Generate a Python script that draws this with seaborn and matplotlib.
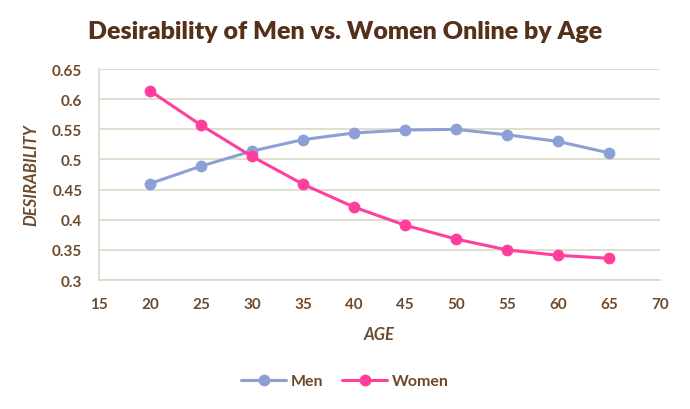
import matplotlib
matplotlib.use("Agg")
import matplotlib.pyplot as plt
import seaborn as sns
import pandas as pd

ages = [20, 25, 30, 35, 40, 45, 50, 55, 60, 65]
men = [0.460, 0.489, 0.514, 0.533, 0.544, 0.549, 0.550, 0.541, 0.530, 0.511]
women = [0.614, 0.557, 0.505, 0.459, 0.421, 0.391, 0.368, 0.350, 0.341, 0.336]
x_ticks = [15, 20, 25, 30, 35, 40, 45, 50, 55, 60, 65, 70]
y_ticks = [0.3, 0.35, 0.4, 0.45, 0.5, 0.55, 0.6, 0.65]
y_tick_labels = ["0.3", "0.35", "0.4", "0.45", "0.5", "0.55", "0.6", "0.65"]

sns.set_theme(style="white")
plt.rcParams["font.family"] = ["Lato", "DejaVu Sans"]

df = pd.DataFrame({
    "Age": ages * 2,
    "Desirability": men + women,
    "Sex": ["Men"] * len(ages) + ["Women"] * len(ages),
})

brown = "#6E4A2C"
title_brown = "#55301A"
grid_c = "#DCDCCB"
palette = {"Men": "#8DA0D6", "Women": "#FF3F9B"}

fig = plt.figure(figsize=(6.9, 4.1), dpi=100)
ax = fig.add_axes([0.1435, 0.3146, 0.813, 0.5144])

sns.lineplot(data=df, x="Age", y="Desirability", hue="Sex", palette=palette,
             marker="o", markersize=8.5, markeredgewidth=0, linewidth=2.2,
             ax=ax, legend=True)

ax.set_xlim(15, 70)
ax.set_ylim(0.3, 0.65)
ax.set_xticks(x_ticks)
ax.set_xticklabels([str(t) for t in x_ticks])
ax.set_yticks(y_ticks)
ax.set_yticklabels(y_tick_labels)
ax.tick_params(axis="both", length=0, labelsize=11, labelcolor=brown)
ax.tick_params(axis="x", pad=12)
ax.tick_params(axis="y", pad=12)
for lab in ax.get_xticklabels() + ax.get_yticklabels():
    lab.set_fontweight("bold")

ax.yaxis.grid(True, color=grid_c, linewidth=1.3)
ax.xaxis.grid(False)
for s in ["top", "right"]:
    ax.spines[s].set_visible(False)
for s in ["left", "bottom"]:
    ax.spines[s].set_color(grid_c)
    ax.spines[s].set_linewidth(1.3)

ax.set_xlabel("AGE", fontsize=12, fontweight="bold", fontstyle="italic", color=brown, labelpad=11)
ax.set_ylabel("DESIRABILITY", fontsize=12, fontweight="bold", fontstyle="italic", color=brown, labelpad=9)

fig.text(0.5, 0.922, "Desirability of Men vs. Women Online by Age", ha="center", va="center",
         fontsize=18, fontweight="heavy", color=title_brown)

handles, labels = ax.get_legend_handles_labels()
ax.get_legend().remove()
leg = fig.legend(handles, labels, loc="center", bbox_to_anchor=(0.5, 0.068), ncol=2,
                 frameon=False, fontsize=11.5, handlelength=2.8, columnspacing=1.2,
                 handletextpad=0.3)
for t in leg.get_texts():
    t.set_color(brown)
    t.set_fontweight("bold")

fig.savefig("out.png", dpi=100, facecolor="white")
